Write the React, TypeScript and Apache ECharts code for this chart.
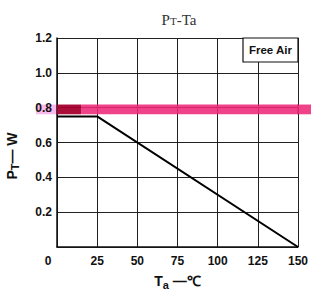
import React, { useEffect, useRef } from "react";
import * as echarts from "echarts";

const curveX: number[] = [0, 25, 150];
const curveY: number[] = [0.75, 0.75, 0];
const xTicks: number[] = [0, 25, 50, 75, 100, 125, 150];
const yTicks: number[] = [0, 0.2, 0.4, 0.6, 0.8, 1.0, 1.2];
const bandY: number[] = [0.762, 0.818];
const bandDarkX: number[] = [0, 15];
const bandX: number[] = [15, 150];
const boxLabel = "Free Air";

export default function App() {
  const ref = useRef<HTMLDivElement>(null);
  useEffect(() => {
    if (!ref.current) return;
    const chart = echarts.init(ref.current, undefined, { renderer: "svg" });
    const font = "Liberation Sans";
    chart.setOption({
      animation: false,
      backgroundColor: "#fff",
      title: {
        text: "P{s|T}-Ta",
        left: 174,
        top: 7,
        textAlign: "center",
        textStyle: {
          fontFamily: "Liberation Serif",
          fontSize: 15,
          fontWeight: "normal",
          color: "#333",
          rich: { s: { fontFamily: "Liberation Serif", fontSize: 11, color: "#333", padding: [2, 0, 0, 0] } },
        },
      },
      grid: { left: 57, right: 10, top: 38, bottom: 44 },
      xAxis: {
        type: "value",
        min: 0,
        max: 150,
        interval: 25,
        name: "T{s|a} —℃",
        nameLocation: "middle",
        nameGap: 24,
        nameTextStyle: {
          fontFamily: font,
          fontSize: 14,
          fontWeight: "bold",
          color: "#111",
          rich: { s: { fontFamily: font, fontSize: 11, fontWeight: "bold", color: "#111", padding: [8, 0, 0, 0] } },
        },
        axisLine: { show: true, lineStyle: { color: "#111", width: 1.5 } },
        axisTick: { show: false },
        splitLine: { show: true, lineStyle: { color: "#222", width: 1 } },
        axisLabel: {
          margin: 8,
          fontFamily: font,
          fontSize: 12,
          fontWeight: "bold",
          color: "#111",
          formatter: (v: number) => (v === 0 ? "{o|0}" : xTicks.includes(v) ? String(v) : ""),
          rich: { o: { fontFamily: font, fontSize: 12, fontWeight: "bold", color: "#111", padding: [0, 18, 0, 0] } },
        },
      },
      yAxis: {
        type: "value",
        min: 0,
        max: 1.2,
        interval: 0.2,
        axisLine: { show: true, lineStyle: { color: "#111", width: 1.5 } },
        axisTick: { show: false },
        splitLine: { show: true, lineStyle: { color: "#222", width: 1 } },
        axisLabel: {
          margin: 5,
          fontFamily: font,
          fontSize: 12,
          fontWeight: "bold",
          color: "#111",
          formatter: (v: number) => (v === 0 ? "" : yTicks.includes(Math.round(v * 10) / 10) ? v.toFixed(1) : ""),
        },
      },
      series: [
        {
          type: "line",
          data: curveX.map((x, i) => [x, curveY[i]]),
          symbol: "none",
          lineStyle: { color: "#000", width: 2 },
          z: 3,
          markArea: {
            silent: true,
            data: [
              [
                { xAxis: bandDarkX[0], yAxis: bandY[0], itemStyle: { color: "rgba(165,0,45,0.95)" } },
                { xAxis: bandDarkX[1], yAxis: bandY[1] },
              ],
              [
                { xAxis: bandX[0], yAxis: bandY[0], itemStyle: { color: "rgba(238,40,120,0.88)" } },
                { xAxis: bandX[1], yAxis: bandY[1] },
              ],
            ],
          },
        },
      ],
    });
    const pTop = chart.convertToPixel({ gridIndex: 0 }, [0, bandY[1]]) as number[];
    const pBot = chart.convertToPixel({ gridIndex: 0 }, [bandX[1], bandY[0]]) as number[];
    const x0 = pTop[0];
    const x1 = pBot[0];
    const yT = pTop[1];
    const h = pBot[1] - pTop[1];
    chart.setOption({
      graphic: [
        { type: "rect", shape: { x: x0 - 21, y: yT, width: 21, height: h }, style: { fill: "rgba(245,140,225,0.6)" }, z: 0 },
        { type: "rect", shape: { x: x1 - 1, y: yT, width: 320 - x1, height: h }, style: { fill: "rgba(238,40,120,0.88)" }, z: 10 },
        {
          type: "group",
          z: 20,
          children: [
            { type: "rect", shape: { x: 243, y: 38, width: x1 - 243, height: 24 }, style: { fill: "#fff", stroke: "#111", lineWidth: 1.2 } },
            {
              type: "text",
              x: (243 + x1) / 2,
              y: 50,
              style: { text: boxLabel, fontFamily: font, fontSize: 11.5, fontWeight: "bold", fill: "#111", align: "center", verticalAlign: "middle" },
            },
          ],
        },
        {
          type: "text",
          x: 12,
          y: 156,
          rotation: Math.PI / 2,
          style: {
            text: "P{s|T}— W",
            fontFamily: font,
            fontSize: 14,
            fontWeight: "bold",
            fill: "#111",
            align: "center",
            verticalAlign: "middle",
            rich: { s: { fontFamily: font, fontSize: 11, fontWeight: "bold", fill: "#111", padding: [6, 0, 0, 0] } },
          },
        },
      ],
    });
    return () => chart.dispose();
  }, []);
  return <div ref={ref} style={{ width: 311, height: 295, position: "absolute", left: 0, top: 0 }} />;
}
